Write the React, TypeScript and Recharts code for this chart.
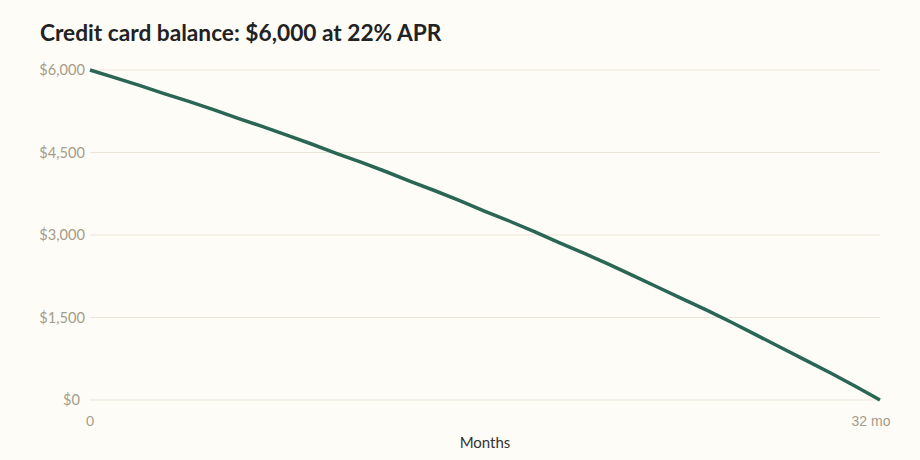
import { LineChart, Line, XAxis, YAxis, CartesianGrid } from "recharts";

const months = [
  0, 1, 2, 3, 4, 5, 6, 7, 8, 9, 10, 11, 12, 13, 14, 15, 16,
  17, 18, 19, 20, 21, 22, 23, 24, 25, 26, 27, 28, 29, 30, 31, 32,
];
const balance = [
  6000, 5860, 5720, 5570, 5430, 5280, 5120, 4970, 4810, 4650, 4480, 4320,
  4150, 3970, 3800, 3620, 3430, 3250, 3060, 2860, 2670, 2470, 2260, 2050,
  1840, 1630, 1410, 1180, 950, 720, 490, 250, 0,
];
const yTicks = [0, 1500, 3000, 4500, 6000];
const xTicks = [0, 32];

const data = months.map((m, i) => ({ month: m, balance: balance[i] }));

const TICK = "#a59c89";
const FONT = "Lato, 'Noto Sans', sans-serif";

const fmtMoney = (v: number) => "$" + v.toLocaleString("en-US");

function XTick(props: any) {
  const { x, y, payload } = props;
  const last = payload.value === 32;
  return (
    <text
      x={last ? x - 9 : x}
      y={y}
      dy="0.71em"
      textAnchor="middle"
      fill={TICK}
      fontSize={14}
      fontFamily={last ? "'Liberation Sans', Arial, sans-serif" : FONT}
    >
      {last ? "32 mo" : payload.value}
    </text>
  );
}

function YTick(props: any) {
  const { x, y, payload } = props;
  return (
    <text
      x={payload.value === 0 ? x - 5 : x}
      y={y}
      dy="0.355em"
      textAnchor="end"
      fill={TICK}
      fontSize={14.6}
      fontFamily={FONT}
    >
      {fmtMoney(payload.value)}
    </text>
  );
}

export default function App() {
  return (
    <div
      style={{
        position: "fixed",
        left: 0,
        top: 0,
        width: 920,
        height: 460,
        background: "#fdfcf7",
        fontFamily: FONT,
      }}
    >
      <div
        style={{
          position: "absolute",
          left: 40,
          top: 19,
          fontSize: 22.7,
          fontWeight: 700,
          color: "#222222",
          whiteSpace: "nowrap",
        }}
      >
        Credit card balance: $6,000 at 22% APR
      </div>
      <LineChart
        width={920}
        height={460}
        data={data}
        margin={{ top: 70, right: 40, bottom: 0, left: 0 }}
      >
        <CartesianGrid vertical={false} stroke="#ebe5d7" strokeWidth={1} />
        <XAxis
          dataKey="month"
          type="number"
          domain={[0, 32]}
          ticks={xTicks}
          axisLine={false}
          tickLine={false}
          tickSize={6}
          tickMargin={10}
          height={60}
          tick={<XTick />}
          label={{
            value: "Months",
            position: "insideBottom",
            offset: 12,
            fill: "#333333",
            fontSize: 15,
            fontFamily: FONT,
          }}
        />
        <YAxis
          type="number"
          domain={[0, 6000]}
          ticks={yTicks}
          axisLine={false}
          tickLine={false}
          tickSize={3}
          tickMargin={2}
          width={90}
          tick={<YTick />}
        />
        <Line
          type="linear"
          dataKey="balance"
          stroke="#2a6654"
          strokeWidth={3.5}
          dot={false}
          isAnimationActive={false}
        />
      </LineChart>
    </div>
  );
}
